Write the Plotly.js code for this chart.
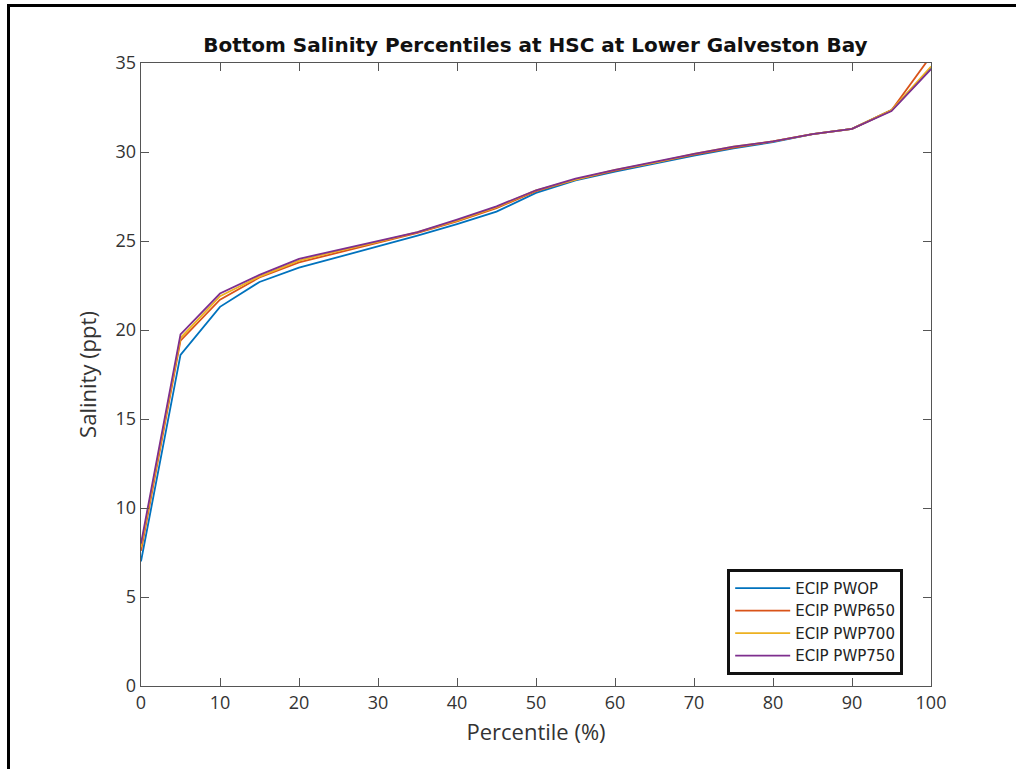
<!DOCTYPE html>
<html>
<head>
<meta charset="utf-8">
<script src="https://cdn.plot.ly/plotly-3.0.1.min.js"></script>
<style>
  html, body { margin: 0; padding: 0; background: #fff; }
  #wrap { position: relative; width: 1016px; height: 769px; }
  #chart { position: absolute; left: 0; top: 0; width: 1016px; height: 769px; }
  #frame { position: absolute; left: 7px; top: 4px; width: 1009px; height: 765px;
           border-top: 3px solid #000; border-left: 3px solid #000; pointer-events: none; }
</style>
</head>
<body>
<div id="wrap">
  <div id="chart"></div>
  <div id="frame"></div>
</div>
<script>
const percentiles = [0, 5, 10, 15, 20, 25, 30, 35, 40, 45, 50, 55, 60, 65, 70, 75, 80, 85, 90, 95, 100];
const seriesNames = ["ECIP PWOP", "ECIP PWP650", "ECIP PWP700", "ECIP PWP750"];
const pwop   = [7.0, 18.6, 21.3, 22.7, 23.5, 24.1, 24.7, 25.3, 25.95, 26.65, 27.7, 28.4, 28.9, 29.35, 29.8, 30.2, 30.55, 31.0, 31.3, 32.35, 34.7];
const pwp650 = [7.6, 19.4, 21.7, 22.95, 23.8, 24.35, 24.9, 25.45, 26.1, 26.85, 27.8, 28.45, 28.95, 29.4, 29.85, 30.25, 30.6, 31.0, 31.3, 32.35, 35.4];
const pwp700 = [7.8, 19.55, 21.9, 23.0, 23.9, 24.45, 24.95, 25.5, 26.15, 26.9, 27.85, 28.45, 29.0, 29.4, 29.9, 30.3, 30.6, 31.0, 31.3, 32.35, 34.8];
const pwp750 = [8.0, 19.75, 22.05, 23.1, 24.0, 24.5, 25.0, 25.5, 26.2, 26.95, 27.85, 28.5, 29.0, 29.45, 29.9, 30.3, 30.6, 31.0, 31.3, 32.3, 34.65];
const xTicks = [0, 10, 20, 30, 40, 50, 60, 70, 80, 90, 100];
const yTicks = [0, 5, 10, 15, 20, 25, 30, 35];
const colors = ["#0072BD", "#D95319", "#EDB120", "#7E2F8E"];

const allY = [pwop, pwp650, pwp700, pwp750];
const traces = allY.map((y, i) => ({
  x: percentiles, y: y, type: "scatter", mode: "lines",
  name: seriesNames[i], line: { color: colors[i], width: 1.8 }
}));

const axisCommon = {
  showline: true, linecolor: "#555", linewidth: 1.3, mirror: "ticks",
  ticks: "inside", ticklen: 8, tickcolor: "#555", tickwidth: 1,
  showgrid: false, zeroline: false,
  tickfont: { family: "Open Sans, DejaVu Sans, sans-serif", size: 18, color: "#333" }
};

const layout = {
  width: 1016, height: 769,
  margin: { l: 141, r: 85, t: 63, b: 83 },
  paper_bgcolor: "#fff", plot_bgcolor: "#fff",
  title: {
    text: "<b>Bottom Salinity Percentiles at HSC at Lower Galveston Bay</b>",
    font: { family: "DejaVu Sans, sans-serif", size: 20, color: "#111" },
    x: 0.527, xanchor: "center", y: 0.941, yanchor: "middle"
  },
  xaxis: Object.assign({}, axisCommon, {
    range: [0, 100], tickvals: xTicks, ticktext: xTicks.map(String),
    title: { text: "Percentile (%)", standoff: 11,
             font: { family: "Open Sans, DejaVu Sans, sans-serif", size: 22, color: "#333" } }
  }),
  yaxis: Object.assign({}, axisCommon, {
    range: [0, 35], tickvals: yTicks, ticktext: yTicks.map(String),
    title: { text: "Salinity (ppt)", standoff: 12,
             font: { family: "Open Sans, DejaVu Sans, sans-serif", size: 22, color: "#333" } }
  }),
  showlegend: true,
  legend: {
    x: 0.742, y: 0.188, xanchor: "left", yanchor: "top",
    bgcolor: "#fff", bordercolor: "#111", borderwidth: 3,
    font: { family: "DejaVu Sans, sans-serif", size: 15, color: "#222" },
    itemwidth: 55, tracegroupgap: 0
  }
};

Plotly.newPlot("chart", traces, layout, { displayModeBar: false, staticPlot: true });
</script>
</body>
</html>
